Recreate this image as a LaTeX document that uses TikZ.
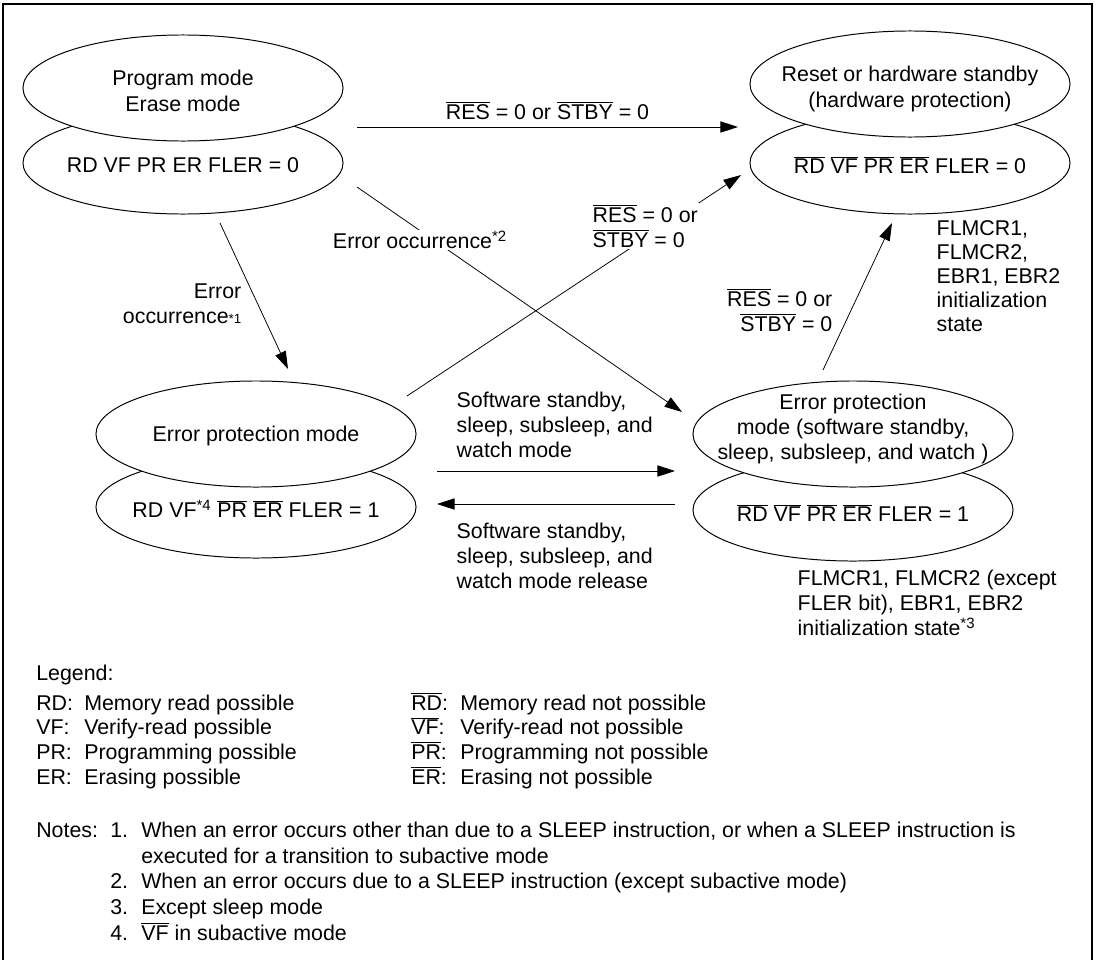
\documentclass[tikz,border=0pt]{standalone}
\usepackage{fontspec}
\setmainfont{Liberation Sans}
\usetikzlibrary{shapes.geometric,arrows.meta}

\newcommand{\ovl}[1]{\ensuremath{\overline{\mbox{#1}}}}
\newcommand{\lowstar}[1]{{\fontsize{9.5}{10}\selectfont *#1}}

\tikzset{
  upper/.style={ellipse, draw, fill=white, line width=0.7pt, minimum width=8cm, minimum height=2.65cm, inner sep=0pt},
  lower/.style={ellipse, draw, line width=0.7pt, minimum width=8cm, minimum height=2.55cm, inner sep=0pt},
  txt/.style={align=center, inner sep=0pt},
  trans/.style={-{Triangle[length=12.5pt,width=8pt]}, line width=0.55pt},
  lbl/.style={align=left, inner sep=1pt},
  note/.style={anchor=base west, inner sep=0pt},
}

\begin{document}
\begin{tikzpicture}[x=0.025cm, y=-0.025cm, font=\fontsize{15.2}{18}\selectfont]
\useasboundingbox (0,0) rectangle (1096,960);
\draw[line width=0.9pt] (3,960) -- (3,4) -- (1092,4) -- (1092,960);

% lower halves first, the upper ones cover them
\node[lower] (tlLow) at (183,163) {};
\node[upper] (tlUp) at (183,88) {};
\node[lower] (trLow) at (910,163) {};
\node[upper] (trUp) at (910,84) {};
\node[lower] (blLow) at (256,507) {};
\node[upper] (blUp) at (256,434) {};
\node[lower] (brLow) at (853,510) {};
\node[upper] (brUp) at (853,434) {};

\node[txt] (tlUpT) at (183,91) {Program mode\\Erase mode};
\node[txt] (tlLowT) at (183,165) {RD VF PR ER FLER = 0};
\node[txt] (trUpT) at (910,89) {Reset or hardware standby\\(hardware protection)};
\node[txt] (trLowT) at (910,165) {\ovl{RD} \ovl{VF} \ovl{PR} \ovl{ER} FLER = 0};
\node[txt] (blUpT) at (256,436) {Error protection mode};
\node[txt] (blLowT) at (256,509) {RD VF\textsuperscript{*4} \ovl{PR} \ovl{ER} FLER = 1};
\node[txt] (brUpT) at (853,429) {Error protection\\mode (software standby,\\sleep, subsleep, and watch )};
\node[txt] (brLowT) at (853,513) {\ovl{RD} \ovl{VF} \ovl{PR} \ovl{ER} FLER = 1};

% connector ends
\coordinate (tlR) at (357,127);
\coordinate (trL) at (738,127);
\coordinate (tlRd) at (357,187);
\coordinate (brTL) at (682,412);
\coordinate (tlB) at (220,223);
\coordinate (blT) at (288,369);
\coordinate (blR) at (407,396);
\coordinate (trLd) at (741,175);
\coordinate (brT) at (823,370);
\coordinate (trB) at (892,223);
\coordinate (blRa) at (437,471);
\coordinate (brLa) at (675,471);
\coordinate (brLb) at (675,504);
\coordinate (blRb) at (437,504);

\draw[trans] (tlR) -- (trL) node[midway, above=5pt, inner sep=0pt] (resA) {\ovl{RES} = 0 or \ovl{STBY} = 0};
\draw[trans] (tlRd) -- (brTL);
\node[lbl, fill=white] (err2) at (420,240) {Error occurrence\textsuperscript{*2}};
\draw[trans] (tlB) -- (blT);
\node[lbl, align=right, anchor=east] (err1) at (243,304) {Error\\occurrence\lowstar{1}};
\draw[trans] (blR) -- (trLd);
\node[lbl, fill=white, anchor=west] (resB) at (591,226) {\ovl{RES} = 0 or\\\ovl{STBY} = 0};
\draw[trans] (brT) -- (trB);
\node[lbl, align=right, anchor=east] (resC) at (834,310) {\ovl{RES} = 0 or\\\ovl{STBY} = 0};
\draw[trans] (blRa) -- (brLa);
\node[lbl, anchor=west] (swIn) at (455,425) {Software standby,\\sleep, subsleep, and\\watch mode};
\draw[trans] (brLb) -- (blRb);
\node[lbl, anchor=west] (swOut) at (455,556) {Software standby,\\sleep, subsleep, and\\watch mode release};

\node[lbl, anchor=west, font=\fontsize{15.2}{17}\selectfont] (initA) at (935,276) {FLMCR1,\\FLMCR2,\\EBR1, EBR2\\initialization\\state};
\node[lbl, anchor=west] (initB) at (796,603) {FLMCR1, FLMCR2 (except\\FLER bit), EBR1, EBR2\\initialization state\textsuperscript{*3}};

% legend
\node[note] (legend) at (36,680) {Legend:};
\foreach \sym/\what [count=\i] in {RD/Memory read, VF/Verify-read, PR/Programming, ER/Erasing} {
  \node[note] (yes\i) at (36,685.3+24.7*\i) {\sym:};
  \node[note] (yesT\i) at (84,685.3+24.7*\i) {\what\ possible};
  \node[note] (no\i) at (411,685.3+24.7*\i) {\ovl{\sym}:};
  \node[note] (noT\i) at (460,685.3+24.7*\i) {\what\ not possible};
}

% notes
\node[note] (notes) at (36,837) {Notes:};
\node[note] (n1) at (110,837) {1.};
\node[note] (n1T) at (141,837) {When an error occurs other than due to a SLEEP instruction, or when a SLEEP instruction is};
\node[note] (n1U) at (141,863) {executed for a transition to subactive mode};
\node[note] (n2) at (110,888) {2.};
\node[note] (n2T) at (141,888) {When an error occurs due to a SLEEP instruction (except subactive mode)};
\node[note] (n3) at (110,914) {3.};
\node[note] (n3T) at (141,914) {Except sleep mode};
\node[note] (n4) at (110,940) {4.};
\node[note] (n4T) at (141,940) {\ovl{VF} in subactive mode};
\end{tikzpicture}
\end{document}
